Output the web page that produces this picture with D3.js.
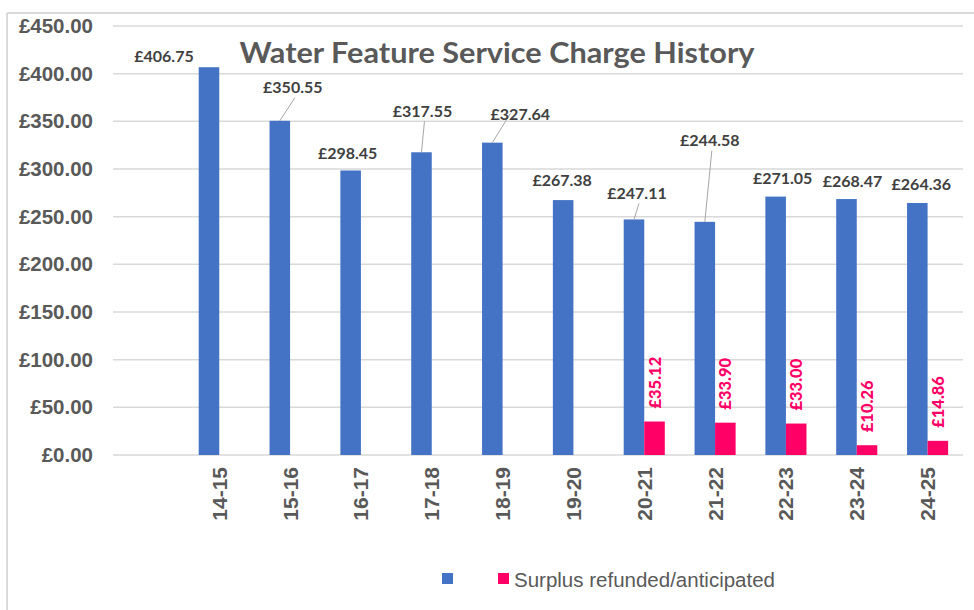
<!DOCTYPE html>
<html>
<head>
<meta charset="utf-8">
<script src="https://cdn.jsdelivr.net/npm/d3@7"></script>
<style>
  body { margin: 0; background: #fff; }
  svg text { fill: #595959; }
</style>
</head>
<body>
<div id="chart"></div>
<script>
// chart data
var categories = ["", "14-15", "15-16", "16-17", "17-18", "18-19", "19-20", "20-21", "21-22", "22-23", "23-24", "24-25"];
var charge = [null, 406.75, 350.55, 298.45, 317.55, 327.64, 267.38, 247.11, 244.58, 271.05, 268.47, 264.36];
var surplus = [null, null, null, null, null, null, null, 35.12, 33.90, 33.00, 10.26, 14.86];
var yTicks = [0, 50, 100, 150, 200, 250, 300, 350, 400, 450];
var seriesNames = ["", "Surplus refunded/anticipated"];

// where Excel had nudged the blue labels (pixel offsets from bar top), leader line when far
var labelNudge = [null, [-45, -12, 0], [13, -34, 1], [-3, -18, 0], [1, -42, 1], [28, -29, 1],
  [-1, -21, 0], [3, -27, 1], [5, -82, 1], [7, -19, 0], [6, -19, 0], [4, -19, 0]];

var colors = ["#4472C4", "#FF0066"];

var W = 974, H = 610;
var margin = {top: 26, right: 11, bottom: 155, left: 113};

var svg = d3.select("#chart").append("svg")
  .attr("width", W).attr("height", H);

// chart border (top + left only visible)
svg.append("line").attr("x1", 7).attr("x2", W).attr("y1", 13).attr("y2", 13)
  .attr("stroke", "#d9d9d9").attr("stroke-width", 2);
svg.append("line").attr("x1", 7).attr("x2", 7).attr("y1", 13).attr("y2", H)
  .attr("stroke", "#d9d9d9").attr("stroke-width", 2);

var x0 = d3.scaleBand()
  .domain(categories)
  .range([margin.left, W - margin.right])
  .paddingInner(0.42)
  .paddingOuter(0.21);

var x1 = d3.scaleBand()
  .domain([0, 1])
  .range([0, x0.bandwidth()]);

var y = d3.scaleLinear()
  .domain([0, 450])
  .range([H - margin.bottom, margin.top]);

// gridlines
svg.append("g")
  .selectAll("line")
  .data(yTicks)
  .enter()
  .append("line")
  .attr("x1", margin.left).attr("x2", W - margin.right)
  .attr("y1", function(d){ return y(d); }).attr("y2", function(d){ return y(d); })
  .attr("stroke", "#d9d9d9").attr("stroke-width", 1.5);

// y axis labels
var yAxis = svg.append("g")
  .attr("transform", "translate(" + (margin.left - 20) + ",0)")
  .call(d3.axisLeft(y).tickValues(yTicks).tickSize(0).tickPadding(0)
    .tickFormat(function(d){ return "£" + d3.format(".2f")(d); }));
yAxis.select(".domain").remove();
yAxis.selectAll("text")
  .style("font-family", "'Liberation Sans', Arial, sans-serif")
  .style("font-size", "20.5px").style("font-weight", "bold")
  .attr("fill", "#595959");

// x axis labels
svg.append("g")
  .selectAll("text")
  .data(categories)
  .enter()
  .append("text")
  .attr("transform", function(d){ return "translate(" + (x0(d) + x0.bandwidth() / 2) + "," + (y(0) + 12) + ")rotate(-90)"; })
  .attr("text-anchor", "end")
  .attr("dominant-baseline", "central")
  .style("font-family", "'Liberation Sans', Arial, sans-serif")
  .style("font-size", "21px").style("font-weight", "bold")
  .text(function(d){ return d; });

// bars
var rows = categories.map(function(c, i){ return {cat: c, vals: [charge[i], surplus[i]], i: i}; });

var groups = svg.selectAll(".grp")
  .data(rows)
  .enter()
  .append("g")
  .attr("transform", function(d){ return "translate(" + x0(d.cat) + ",0)"; });

groups.selectAll("rect")
  .data(function(d){ return d.vals.map(function(v, k){ return {v: v, k: k}; }).filter(function(e){ return e.v != null; }); })
  .enter()
  .append("rect")
  .attr("x", function(d){ return x1(d.k); })
  .attr("y", function(d){ return y(d.v); })
  .attr("width", x1.bandwidth())
  .attr("height", function(d){ return y(0) - y(d.v); })
  .attr("fill", function(d){ return colors[d.k]; });

// blue data labels
var lblFont = "Lato, 'Open Sans', sans-serif";
rows.forEach(function(r){
  if (r.vals[0] == null) return;
  var cx = x0(r.cat) + x1(0) + x1.bandwidth() / 2;
  var top = y(r.vals[0]);
  var n = labelNudge[r.i];
  var lx = cx + n[0], ly = top + n[1];
  if (n[2]) {
    svg.append("line")
      .attr("x1", cx).attr("y1", top)
      .attr("x2", lx + (n[0] > 20 ? -10 : 2)).attr("y2", ly + (n[0] > 20 ? 0 : 11))
      .attr("stroke", "#a6a6a6").attr("stroke-width", 1);
  }
  svg.append("text")
    .attr("x", lx).attr("y", ly)
    .attr("text-anchor", "middle")
    .attr("dominant-baseline", "central")
    .style("font-family", lblFont)
    .style("font-size", "16px").style("font-weight", "bold")
    .style("fill", "#404040")
    .text("£" + d3.format(".2f")(r.vals[0]));
});

// red data labels (rotated)
rows.forEach(function(r){
  if (r.vals[1] == null) return;
  var cx = x0(r.cat) + x1(1) + x1.bandwidth() / 2;
  svg.append("text")
    .attr("transform", "translate(" + cx + "," + (y(r.vals[1]) - 13) + ")rotate(-90)")
    .attr("text-anchor", "start")
    .attr("dominant-baseline", "central")
    .style("font-family", lblFont)
    .style("font-size", "16.5px").style("font-weight", "900")
    .style("fill", "#FF0066")
    .text("£" + d3.format(".2f")(r.vals[1]));
});

// title
svg.append("text")
  .attr("x", 497).attr("y", 52)
  .attr("text-anchor", "middle")
  .attr("dominant-baseline", "central")
  .attr("textLength", 515)
  .attr("lengthAdjust", "spacingAndGlyphs")
  .style("font-family", lblFont)
  .style("font-size", "28px").style("font-weight", "bold")
  .text("Water Feature Service Charge History");

// legend
var legX = [442, 498];
seriesNames.forEach(function(s, k){
  svg.append("rect")
    .attr("x", legX[k]).attr("y", 573)
    .attr("width", 11).attr("height", 11)
    .attr("fill", colors[k]);
  if (s) {
    svg.append("text")
      .attr("x", legX[k] + 16).attr("y", 579)
      .attr("dominant-baseline", "central")
      .style("font-family", "'Liberation Sans', Arial, sans-serif")
      .style("font-size", "20.5px")
      .text(s);
  }
});
</script>
</body>
</html>
